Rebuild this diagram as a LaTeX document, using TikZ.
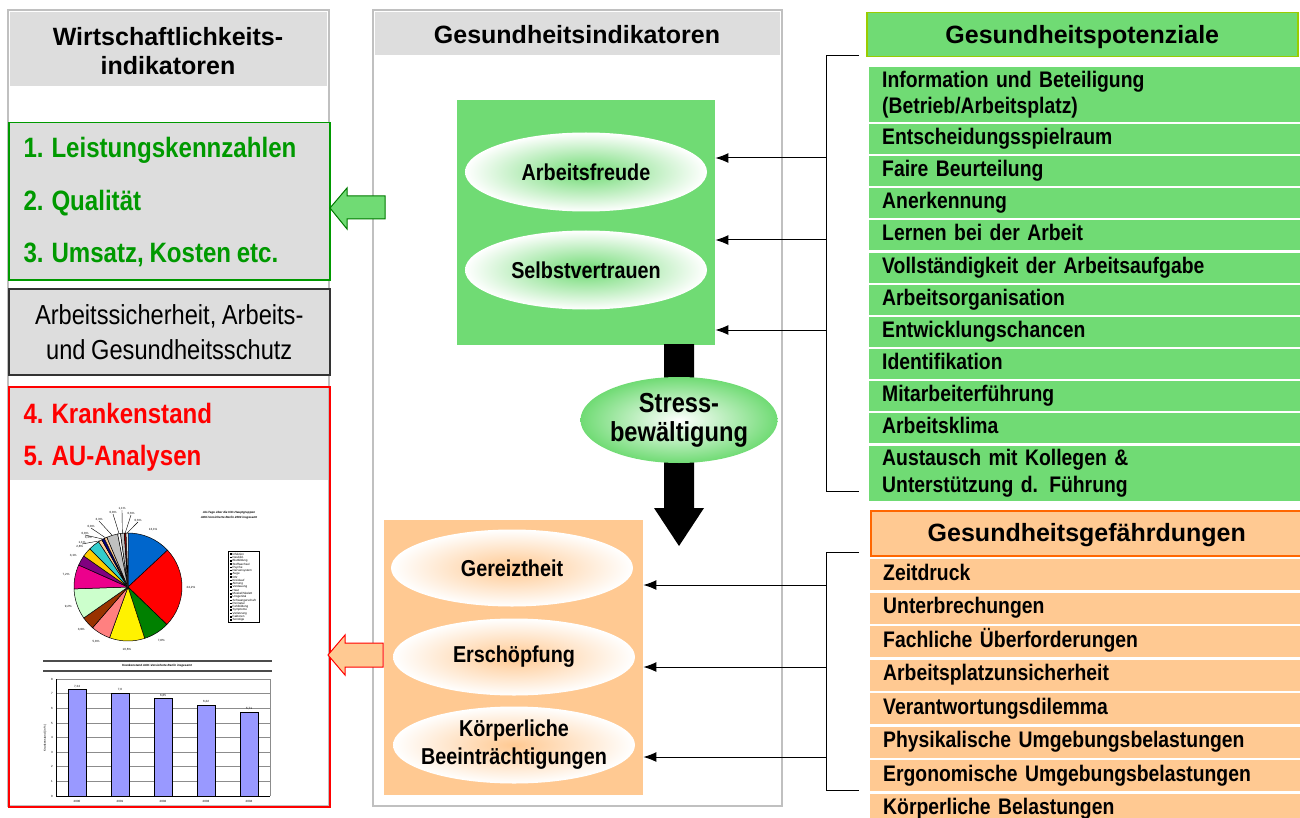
\documentclass[tikz,border=0pt]{standalone}
\usepackage{fontspec}
\setmainfont{Liberation Sans}
\newfontfamily\narrow[FakeStretch=0.86,WordSpace=0.85]{Liberation Sans}
\usetikzlibrary{arrows.meta,shapes.geometric,positioning,calc}

\definecolor{gfill}{RGB}{112,219,116}
\definecolor{ofill}{RGB}{255,201,146}
\definecolor{panelgray}{RGB}{221,221,221}
\definecolor{framegray}{RGB}{192,192,192}
\definecolor{kgreen}{RGB}{0,153,0}
\definecolor{hgreen}{RGB}{153,204,0}
\definecolor{hborange}{RGB}{255,102,0}
\definecolor{barblue}{RGB}{153,153,255}
\definecolor{pblue}{RGB}{0,102,204}
\definecolor{pgreen}{RGB}{0,128,0}
\definecolor{psalmon}{RGB}{255,128,128}
\definecolor{pbrown}{RGB}{153,51,0}
\definecolor{plight}{RGB}{204,255,204}
\definecolor{ppurple}{RGB}{128,0,128}
\definecolor{pgold}{RGB}{255,204,0}
\definecolor{pteal}{RGB}{51,204,204}
\definecolor{ppeach}{RGB}{255,204,153}
\definecolor{pnavy}{RGB}{0,0,128}
\definecolor{psilver}{RGB}{192,192,192}
\definecolor{pdark}{RGB}{128,0,0}

\newcommand\headfont{\bfseries\fontsize{25}{29}\selectfont}
\newcommand\rowfont{\narrow\bfseries\fontsize{22.5}{26.5}\selectfont}
\newcommand\ellfont{\narrow\bfseries\fontsize{23}{28}\selectfont}
\newcommand\kzfont{\narrow\bfseries\fontsize{28}{32}\selectfont}
\newcommand\tinyfont{\fontsize{3}{3.5}\selectfont}

\begin{document}
\begin{tikzpicture}[x=1pt,y=-1pt,
		frame/.style={draw=framegray,line width=2.5pt},
		gellipse/.style={ellipse,minimum width=242pt,minimum height=79pt,shading=radial,inner color=gfill,outer color=white},
		oellipse/.style={ellipse,minimum width=242pt,minimum height=77pt,shading=radial,inner color=ofill,outer color=white},
		etext/.style={font=\ellfont,align=center,inner sep=0pt},
		potrow/.style={fill=gfill,anchor=north west,minimum width=431pt,text width=405pt,inner xsep=13pt,align=left,font=\rowfont},
		gefrow/.style={fill=ofill,anchor=north west,minimum width=431pt,minimum height=31pt,text width=405pt,inner xsep=13pt,align=left,font=\rowfont},
		oneline/.style={text height=16pt,text depth=5pt},
		listhead/.style={line width=1.5pt,anchor=north west,font=\headfont,text height=18pt,text depth=1pt},
		conn/.style={-{Latex[length=13pt,width=10pt]},line width=1pt},
		tiny/.style={font=\tinyfont,inner sep=0pt}]
	\fill[white] (0,0) rectangle (1300,818);
	\useasboundingbox (0,0) rectangle (1300,818);

	% frames of the two left columns
	\draw[frame] (8,10) rectangle (329,806);
	\fill[panelgray] (10,12) rectangle (327,86);
	\node[font=\headfont,align=center] (wihead) at (168,51) {Wirtschaftlichkeits-\\indikatoren};

	\draw[frame] (373,10) rectangle (782,806);
	\fill[panelgray] (375,12) rectangle (780,55);
	\node[font=\headfont] (gihead) at (577,35) {Gesundheitsindikatoren};

	% left column boxes
	\node[draw=kgreen,fill=panelgray,line width=1.5pt,anchor=north west,minimum width=321pt,minimum height=157pt] (kzbox) at (8,122) {};
	\node[font=\kzfont,text=kgreen,anchor=west] (kz1) at (20,150) {1. Leistungskennzahlen};
	\node[font=\kzfont,text=kgreen,anchor=west] (kz2) at (20,203) {2. Qualität};
	\node[font=\kzfont,text=kgreen,anchor=west] (kz3) at (20,255) {3. Umsatz, Kosten etc.};

	\node[draw=black!80,fill=panelgray,line width=1.5pt,anchor=north west,minimum width=321pt,minimum height=86pt,
		font=\narrow\fontsize{27.5}{35}\selectfont,align=center] (asbox) at (8,288) {Arbeitssicherheit, Arbeits-\\und Gesundheitsschutz};

	\node[draw=red,line width=2pt,anchor=north west,minimum width=321pt,minimum height=420pt] (kbox) at (8,386) {};
	\fill[panelgray] (9.5,387.5) rectangle (327.5,480);
	\node[font=\kzfont,text=red,anchor=west] (kz4) at (20,413) {4. Krankenstand};
	\node[font=\kzfont,text=red,anchor=west] (kz5) at (20,458) {5. AU-Analysen};

	% pie chart
	\coordinate (pie) at (128,587);
	\foreach \a/\b/\c in {0/47/pblue,47/134/red,134/162/pgreen,162/200/yellow,200/221/psalmon,221/235/pbrown,235/268/plight,268/294/magenta,294/305/ppurple,305/315/pgold,315/327/pteal,327/331/ppeach,331/334/pnavy,334/337/ppeach,337/349/psilver,349/352/white,352/356/psilver,356/358/pdark,358/360/white}
		\filldraw[fill=\c,draw=black,line width=0.5pt] (pie) -- ++({\a-90}:54) arc[start angle={\a-90},end angle={\b-90},radius=54] -- cycle;
	\foreach \a/\b/\p in {0/47/{13,1\%},47/134/{24,2\%},134/162/{7,8\%},162/200/{10,6\%},200/221/{5,8\%},221/235/{3,9\%},235/268/{9,2\%},268/294/{7,2\%},294/305/{3,1\%},305/315/{2,8\%},315/327/{3,3\%}}
		\node[tiny] at ($(pie)+({(\a+\b)/2-90}:63)$) {\p};
	\foreach \m/\x/\y/\p in {329/82/542/{1,1\%},332.5/85/533/{0,8\%},335.5/91/526/{0,8\%},343/99/519/{3,3\%},350.5/113/512/{0,8\%},354/122/508/{1,1\%},357/131/513/{0,6\%},359/138/520/{0,6\%}}{
		\draw[line width=0.4pt] ($(pie)+({\m-90}:54)$) -- (\x,\y+2);
		\node[tiny,anchor=south] at (\x,\y+2) {\p};
	}
	\node[tiny,font=\tinyfont\bfseries\itshape] (pietitle) at (229,513) {AU-Tage über die ICD-Hauptgruppen};
	\node[tiny,font=\tinyfont\bfseries\itshape] (piesub) at (229,518) {AOK-Versicherte Berlin 2004 insgesamt};
	\draw[line width=0.8pt] (228,551) rectangle (259,622);
	\foreach \t [count=\i] in {Infektion,Neubild.,Blutbildung,Stoffwechsel,Psyche,Nervensystem,Auge,Ohr,Kreislauf,Atmung,Verdauung,Haut,Muskel/Skelett,Urogenital,Schwangerschaft,Perinatal,Fehlbildung,Symptome,Verletzung,Faktoren,Sonstige}{
		\fill (230,550+\i*3.3) rectangle ++(1.6,1.6);
		\node[tiny,anchor=west] at (232.5,550.8+\i*3.3) {\t};
	}

	% bar chart
	\draw[black!70,line width=1.2pt] (43,661) -- (272,661);
	\draw[black!70,line width=1.2pt] (43,671) -- (272,671);
	\node[tiny,font=\tinyfont\bfseries\itshape] (bartitle) at (157,666) {Krankenstand AOK-Versicherte Berlin insgesamt};
	\foreach \k in {1,...,8}
		\draw[black!45,line width=0.7pt] (56,{796-\k*14.6}) -- (270,{796-\k*14.6});
	\draw[black!45,line width=0.7pt] (270,679) -- (270,796);
	\draw[line width=0.8pt] (56,679) -- (56,796) -- (270,796);
	\foreach \k in {0,...,8}
		\node[tiny,anchor=east] at (53,{796-\k*14.6}) {\k};
	\node[tiny,rotate=90] (barylab) at (45,738) {Krankenstand (in \%)};
	\foreach \x/\v/\l/\yr in {77/7.27/{7,24}/2000,120/7.04/{7,0}/2001,163/6.67/{6,65}/2002,206/6.21/{6,22}/2003,249/5.73/{5,71}/2004}{
		\draw[fill=barblue,line width=0.8pt] (\x-9,796) rectangle (\x+9,{796-\v*14.6});
		\node[tiny,anchor=south] at (\x,{794-\v*14.6}) {\l};
		\node[tiny] at (\x,801) {\yr};
	}

	% health indicators
	\node[fill=gfill,anchor=north west,minimum width=258pt,minimum height=245pt] (gbox) at (457,100) {};
	\node[gellipse] (afreude) at (586,172) {};
	\node[etext] (afreudet) at (afreude) {Arbeitsfreude};
	\node[gellipse] (svertr) at (586,270) {};
	\node[etext] (svertrt) at (svertr) {Selbstvertrauen};

	\fill (664,344) -- (694,344) -- (694,508) -- (704,508) -- (679,546) -- (654,508) -- (664,508) -- cycle;
	\node[ellipse,minimum width=197pt,minimum height=86pt,shading=radial,inner color=white,outer color=gfill] (stress) at (679,420) {};
	\node[etext,font=\narrow\bfseries\fontsize{27.5}{29}\selectfont] (stresst) at (stress) {Stress-\\bewältigung};

	\node[fill=ofill,anchor=north west,minimum width=259pt,minimum height=275pt] (obox) at (384,520) {};
	\node[oellipse] (gereizt) at (512,568) {};
	\node[etext] (gereiztt) at (gereizt) {Gereiztheit};
	\node[oellipse] (ersch) at (514,657) {};
	\node[etext] (erscht) at (ersch) {Erschöpfung};
	\node[oellipse] (koerper) at (514,745) {};
	\node[etext] (koerpert) at (koerper) {Körperliche\\Beeinträchtigungen};

	% block arrows to the left
	\filldraw[fill=gfill,draw=kgreen!80!black,line width=1pt] (385,196) -- (347,196) -- (347,188) -- (330,208) -- (347,229) -- (347,219) -- (385,219) -- cycle;
	\filldraw[fill=ofill,draw=red,line width=1pt] (383,643) -- (345,643) -- (345,635) -- (328,655) -- (345,675) -- (345,667) -- (383,667) -- cycle;

	% potentials
	\node[listhead,fill=gfill,draw=hgreen,minimum width=431pt,minimum height=44pt] (pothead) at (866,12) {Gesundheitspotenziale};
	\node[potrow,minimum height=55pt] (pot1) at (869,67) {Information und Beteiligung\\(Betrieb/Arbeitsplatz)};
	\foreach \t [count=\i from 2] in {Entscheidungsspielraum,Faire Beurteilung,Anerkennung,Lernen bei der Arbeit,Vollständigkeit der Arbeitsaufgabe,Arbeitsorganisation,Entwicklungschancen,Identifikation,Mitarbeiterführung,Arbeitsklima}
		\node[potrow,oneline,minimum height=30pt] (pot\i) at (869,{124+(\i-2)*32.1}) {\t};
	\node[potrow,minimum height=55pt] (pot12) at (869,445.5) {Austausch mit Kollegen \&\\Unterstützung d. Führung};

	\draw[line width=1pt] (859,56) -- (826,56) -- (826,491) -- (859,491);
	\foreach \y in {158,240,330}
		\draw[conn] (826,\y) -- (gbox.east |- 0,\y);

	% hazards
	\node[listhead,fill=ofill,draw=hborange,minimum width=432pt,minimum height=45pt] (gefhead) at (870,510) {Gesundheitsgefährdungen};
	\foreach \t [count=\i] in {Zeitdruck,Unterbrechungen,Fachliche Überforderungen,Arbeitsplatzunsicherheit,Verantwortungsdilemma,Physikalische Umgebungsbelastungen,Ergonomische Umgebungsbelastungen,Körperliche Belastungen}
		\node[gefrow,oneline] (gef\i) at (870,{559+(\i-1)*33.5}) {\t};

	\draw[line width=1pt] (859,552) -- (826,552) -- (826,790) -- (859,790);
	\foreach \y in {585,667,757}
		\draw[conn] (826,\y) -- (obox.east |- 0,\y);
\end{tikzpicture}
\end{document}
